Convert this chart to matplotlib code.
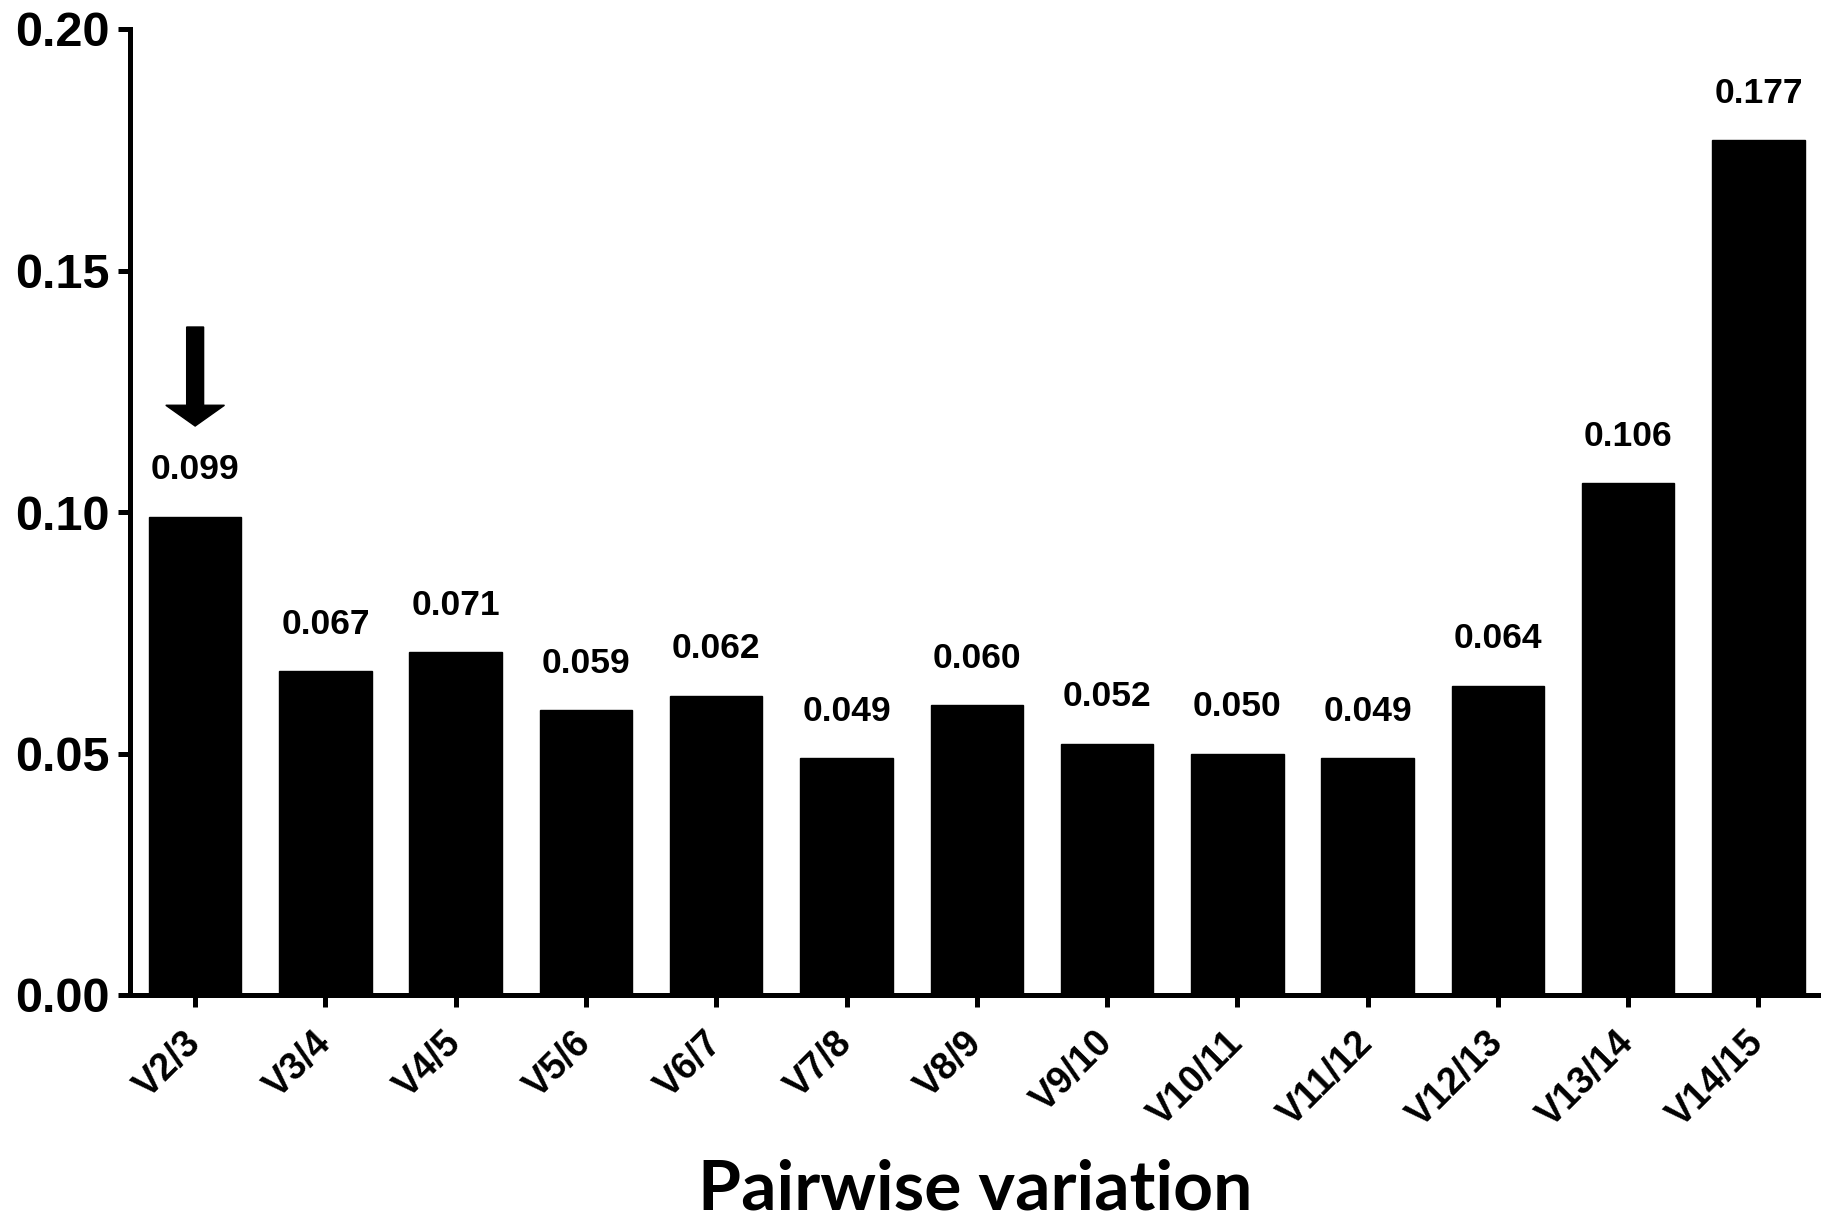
import matplotlib
matplotlib.use("Agg")
import matplotlib.pyplot as plt

categories = ["V2/3", "V3/4", "V4/5", "V5/6", "V6/7", "V7/8", "V8/9",
              "V9/10", "V10/11", "V11/12", "V12/13", "V13/14", "V14/15"]
values = [0.099, 0.067, 0.071, 0.059, 0.062, 0.049, 0.060,
          0.052, 0.050, 0.049, 0.064, 0.106, 0.177]
value_labels = ["0.099", "0.067", "0.071", "0.059", "0.062", "0.049", "0.060",
                "0.052", "0.050", "0.049", "0.064", "0.106", "0.177"]
y_ticks = [0.00, 0.05, 0.10, 0.15, 0.20]
y_tick_labels = ["0.00", "0.05", "0.10", "0.15", "0.20"]
x_label = "Pairwise variation"

plt.rcParams['font.family'] = ['Liberation Sans', 'DejaVu Sans']

fig = plt.figure(figsize=(18.21, 12.19), dpi=100)
ax = fig.add_axes([130/1821, 1 - 995/1219, 1 - 130/1821, (995 - 29)/1219])

x = list(range(len(categories)))
ax.bar(x, values, width=0.71, color='black', edgecolor='black', zorder=2)

for xi, v, lab in zip(x, values, value_labels):
    ax.annotate(lab, (xi, v), xytext=(0, 27), textcoords='offset points',
                ha='center', va='baseline', fontsize=25.5, fontweight='bold',
                clip_on=False)

# arrow above the first bar
ax.arrow(x[0], values[0] + 0.0393, 0, -0.0205, width=0.13, head_width=0.45,
         head_length=0.0043, length_includes_head=True, color='black',
         zorder=3)

ax.set_xlim(-0.5, len(categories) - 1 + 0.48)
ax.set_ylim(0, 0.20)
ax.set_yticks(y_ticks)
ax.set_yticklabels(y_tick_labels, fontsize=35, fontweight='bold')
ax.set_xticks(x)
ax.set_xticklabels(categories, fontsize=27, fontweight='bold', rotation=45,
                   ha='right', va='center', rotation_mode='anchor')

for s in ['top', 'right']:
    ax.spines[s].set_visible(False)
for s in ['left', 'bottom']:
    ax.spines[s].set_linewidth(3.6)
ax.tick_params(axis='both', width=3.6, length=8.6, direction='out')
ax.tick_params(axis='y', pad=6)
ax.tick_params(axis='x', pad=22)

ax.set_xlabel(x_label, fontsize=50, fontweight='bold', family=['Lato', 'DejaVu Sans'],
              va='center')
ax.xaxis.set_label_coords(0.5, -0.202)

fig.savefig("out.png", dpi=100)
